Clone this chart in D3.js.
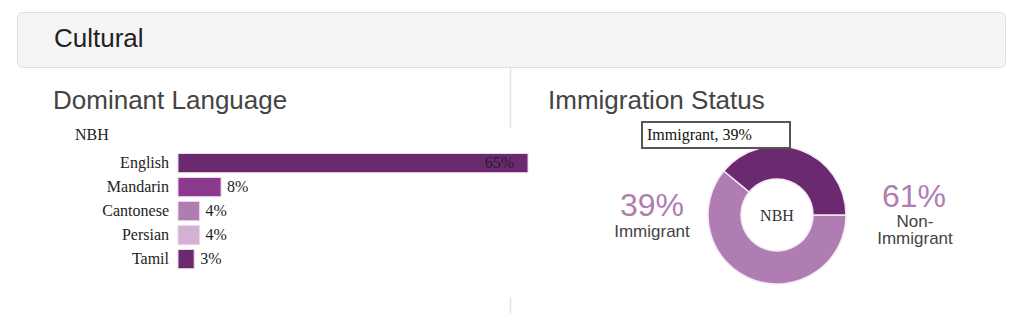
<!DOCTYPE html>
<html>
<head>
<meta charset="utf-8">
<script src="https://d3js.org/d3.v7.min.js"></script>
<style>
body { margin: 0; background: #fff; }
svg { display: block; }
.heading { font: 26px "Liberation Sans", Arial, sans-serif; fill: #444; }
.serif { font: 16px "Liberation Serif", "Times New Roman", serif; fill: #222; }
</style>
</head>
<body>
<svg width="1024" height="330"></svg>
<script>
// language data
var languages = ["English", "Mandarin", "Cantonese", "Persian", "Tamil"];
var languageShares = [65, 8, 4, 4, 3];
var languageColors = ["#6b2a70", "#8b3a8f", "#b07db3", "#d4b0d4", "#6b2a70"];

// immigration data
var statusLabels = ["Non-Immigrant", "Immigrant"];
var statusShares = [61, 39];
var statusColors = ["#b07db3", "#6b2a70"];

var svg = d3.select("svg");

// panel header
svg.append("rect")
    .attr("x", 17.5).attr("y", 12.5)
    .attr("width", 988).attr("height", 55)
    .attr("rx", 5)
    .attr("fill", "#f5f5f5")
    .attr("stroke", "#dddddd");

svg.append("text")
    .attr("class", "heading")
    .attr("x", 54).attr("y", 47)
    .style("fill", "#222")
    .text("Cultural");

// divider between the two charts
svg.append("line")
    .attr("x1", 510.5).attr("x2", 510.5).attr("y1", 68).attr("y2", 128)
    .attr("stroke", "#e3e3e3").attr("stroke-width", 1.5);
svg.append("line")
    .attr("x1", 510.5).attr("x2", 510.5).attr("y1", 297).attr("y2", 313)
    .attr("stroke", "#e3e3e3").attr("stroke-width", 1.5);

// ---- Dominant Language bars ----
svg.append("text")
    .attr("class", "heading")
    .attr("x", 53).attr("y", 109)
    .text("Dominant Language");

svg.append("text")
    .attr("class", "serif")
    .attr("x", 75).attr("y", 140)
    .text("NBH");

var x = d3.scaleLinear()
    .domain([0, 65])
    .range([178, 528]);

var y = d3.scaleBand()
    .domain(languages)
    .range([153.5, 268.7])
    .paddingInner(0.2);

var bars = svg.append("g");

bars.selectAll("rect")
  .data(languages)
  .enter().append("rect")
    .attr("x", x(0))
    .attr("y", function(d) { return y(d); })
    .attr("width", function(d, i) { return x(languageShares[i]) - x(0); })
    .attr("height", y.bandwidth())
    .attr("fill", function(d, i) { return languageColors[i]; })
    .attr("stroke", "#ecd6ec")
    .attr("stroke-width", 1);

bars.selectAll(".name")
  .data(languages)
  .enter().append("text")
    .attr("class", "serif")
    .attr("x", 169)
    .attr("y", function(d) { return y(d) + y.bandwidth() / 2 + 5; })
    .attr("text-anchor", "end")
    .text(function(d) { return d; });

bars.selectAll(".val")
  .data(languages)
  .enter().append("text")
    .attr("class", "serif")
    .attr("x", function(d, i) {
      var v = languageShares[i];
      return v > 30 ? x(v) - 14 : x(v) + 6;
    })
    .attr("y", function(d) { return y(d) + y.bandwidth() / 2 + 5; })
    .attr("text-anchor", function(d, i) { return languageShares[i] > 30 ? "end" : "start"; })
    .text(function(d, i) { return languageShares[i] + "%"; });

// ---- Immigration Status donut ----
svg.append("text")
    .attr("class", "heading")
    .attr("x", 548).attr("y", 109)
    .text("Immigration Status");

var cx = 777, cy = 215;

var pie = d3.pie()
    .sort(null)
    .startAngle(Math.PI / 2)
    .endAngle(Math.PI / 2 + 2 * Math.PI);

var arc = d3.arc()
    .innerRadius(36)
    .outerRadius(69);

var donut = svg.append("g")
    .attr("transform", "translate(" + cx + "," + cy + ")");

donut.selectAll("path")
  .data(pie(statusShares))
  .enter().append("path")
    .attr("d", arc)
    .attr("fill", function(d, i) { return statusColors[i]; })
    .attr("stroke", "#f4e8f4")
    .attr("stroke-width", 1.5);

donut.append("text")
    .attr("class", "serif")
    .attr("y", 6)
    .attr("text-anchor", "middle")
    .style("fill", "#333")
    .text("NBH");

// big side labels
var bigFont = '32px "Liberation Sans", Arial, sans-serif';
var smallFont = '17px "Liberation Sans", Arial, sans-serif';

svg.append("text")
    .attr("x", 652).attr("y", 216)
    .attr("text-anchor", "middle")
    .style("font", bigFont).style("fill", "#b07db3")
    .text(statusShares[1] + "%");
svg.append("text")
    .attr("x", 652).attr("y", 237)
    .attr("text-anchor", "middle")
    .style("font", smallFont).style("fill", "#444")
    .text(statusLabels[1]);

svg.append("text")
    .attr("x", 914).attr("y", 207)
    .attr("text-anchor", "middle")
    .style("font", bigFont).style("fill", "#b07db3")
    .text(statusShares[0] + "%");
svg.append("text")
    .attr("x", 915).attr("y", 227)
    .attr("text-anchor", "middle")
    .style("font", smallFont).style("fill", "#444")
    .text("Non-");
svg.append("text")
    .attr("x", 915).attr("y", 244)
    .attr("text-anchor", "middle")
    .style("font", smallFont).style("fill", "#444")
    .text("Immigrant");

// tooltip box
var tip = svg.append("g").attr("transform", "translate(641,121)");
tip.append("rect")
    .attr("x", 1).attr("y", 1)
    .attr("width", 148).attr("height", 26)
    .attr("fill", "#fff")
    .attr("stroke", "#555")
    .attr("stroke-width", 2);
tip.append("text")
    .attr("class", "serif")
    .attr("x", 6).attr("y", 19)
    .style("fill", "#111")
    .text(statusLabels[1] + ", " + statusShares[1] + "%");
</script>
</body>
</html>
